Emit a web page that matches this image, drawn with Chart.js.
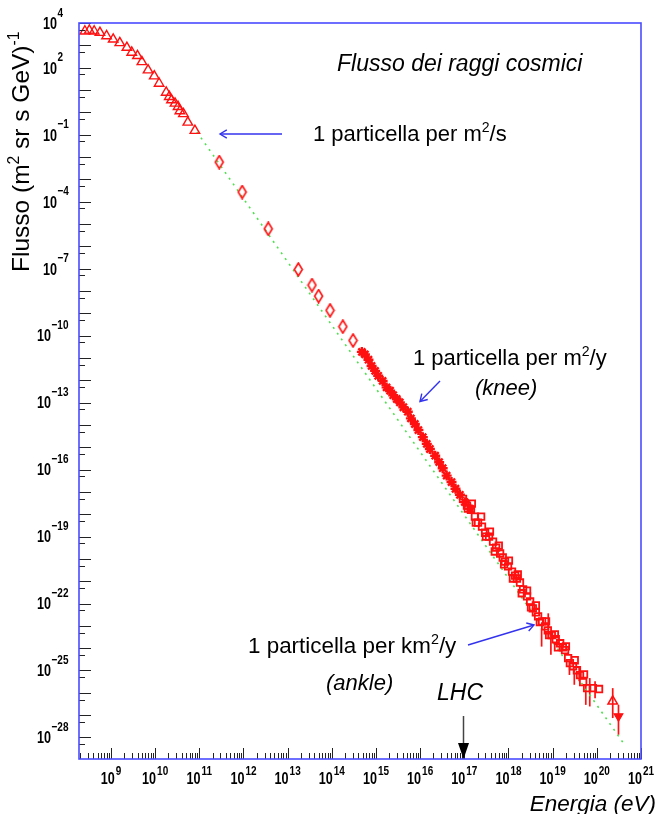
<!DOCTYPE html>
<html><head><meta charset="utf-8">
<script src="https://cdn.jsdelivr.net/npm/chart.js@4.4.1/dist/chart.umd.min.js"></script>
<style>html,body{margin:0;padding:0;background:#fff;}#wrap{width:659px;height:814px;}</style>
</head><body><div id="wrap"><canvas id="c" width="659" height="814"></canvas></div>
<script>
// ---- data (log10 of energy in eV, log10 of flux) ----
const triLogE = [8.41,8.51,8.62,8.75,8.90,9.05,9.20,9.36,9.47,9.60,9.70,9.84,9.98,10.09,10.25,10.32,10.37,10.45,10.52,10.56,10.64,10.74,10.90];
const triLogF = [3.63,3.67,3.63,3.57,3.42,3.27,3.11,2.90,2.68,2.53,2.26,1.89,1.62,1.29,0.89,0.70,0.55,0.40,0.25,0.06,-0.07,-0.45,-0.82];
const diaLogE = [11.45,11.97,12.56,13.24,13.55,13.70,13.96,14.25,14.48];
const diaLogF = [-2.23,-3.57,-5.22,-7.04,-7.74,-8.23,-8.87,-9.60,-10.22];
const starLogE = [14.68,14.75,14.83,14.90,14.98,15.05,15.15,15.24,15.32,15.39,15.47,15.54,15.62,15.72,15.79,15.88,15.96,16.06,16.15,16.22,16.34,16.43,16.51,16.60,16.71,16.80,16.90,17.01,17.13];
const starLogF = [-10.73,-10.84,-11.08,-11.36,-11.58,-11.80,-12.03,-12.32,-12.47,-12.67,-12.84,-12.99,-13.21,-13.41,-13.71,-13.96,-14.23,-14.55,-14.85,-15.08,-15.38,-15.67,-15.94,-16.27,-16.56,-16.86,-17.13,-17.46,-17.75];
const bandLogE = [16.97,17.06,17.15,17.24,17.31,17.40,17.47,17.56,17.65,17.72,17.81,17.87,17.92,17.99,18.08,18.15,18.19,18.26,18.33,18.42,18.49,18.55,18.62,18.67,18.76,18.83,18.89,18.98,19.07,19.17,19.23,19.28,19.35,19.39,19.46,19.55,19.62,19.69,19.78,19.91,20.05];
const bandLogF = [-17.31,-17.62,-17.80,-18.11,-18.38,-18.56,-18.83,-19.00,-19.23,-19.50,-19.76,-19.94,-20.12,-20.34,-20.57,-20.75,-20.88,-21.06,-21.37,-21.68,-21.91,-22.22,-22.40,-22.58,-22.80,-23.02,-23.20,-23.42,-23.60,-23.78,-23.96,-24.09,-24.45,-24.67,-24.81,-24.99,-25.21,-25.52,-25.79,-25.79,-25.83];
const band2LogE = [17.17,17.38,17.58,17.78,18.01,18.21,18.42,18.62,18.85,19.05,19.30,19.50,19.71];
const band2LogF = [-17.53,-18.11,-18.78,-19.41,-20.08,-20.70,-21.42,-22.08,-22.80,-23.38,-23.92,-24.54,-25.17];
const band3LogE = [17.08,17.26,17.49,17.69,17.90,18.10,18.30,18.51,18.71,18.92,19.12];
const band3LogF = [-17.75,-18.38,-19.00,-19.67,-20.25,-20.88,-21.54,-22.17,-22.83,-23.42,-23.96];
const errLogE   = [18.75,18.90,18.96,19.38,19.49,19.60,19.75,19.84,19.96,20.36,20.49];
const errLogTop = [-23.11,-22.44,-23.25,-24.58,-24.97,-24.81,-25.64,-25.34,-25.48,-25.79,-26.54];
const errLogBot = [-23.93,-23.56,-24.30,-25.20,-25.64,-25.48,-26.54,-26.61,-26.24,-27.13,-27.88];
const upTriLogE = [20.36], upTriLogF = [-26.38];
const dnTriLogE = [20.49], dnTriLogF = [-27.05];
const fitLogE = [10.947, 20.60];
const fitLogF = [-0.88, -28.25];
const xLabelExps = [9,10,11,12,13,14,15,16,17,18,19,20,21];
const yLabelExps = [4,2,-1,-4,-7,-10,-13,-16,-19,-22,-25,-28];
const xRangeLog = [8.276, 21];
const yRangeLog = [-28.964, 4];

const pts = (le, lf) => le.map((e, i) => ({x: Math.pow(10, e), y: Math.pow(10, lf[i])}));

const RED = '#ff1010';
// tall open diamond marker
const dia = document.createElement('canvas');
dia.width = 11; dia.height = 15;
(function(){ const c = dia.getContext('2d'); c.strokeStyle = RED; c.lineWidth = 1.6;
  c.beginPath(); c.moveTo(5.5,1); c.lineTo(9.5,7.5); c.lineTo(5.5,14); c.lineTo(1.5,7.5); c.closePath(); c.stroke(); })();

const FONT = '"Liberation Sans", Arial, sans-serif';
function rich(ctx, parts, x, y, size, italic, align) {
  const st = italic ? 'italic ' : '';
  let w = 0;
  parts.forEach(p => { ctx.font = st + (p.sup ? size*0.64 : size) + 'px ' + FONT; p.w = ctx.measureText(p.t).width; w += p.w; });
  let cx = align === 'right' ? x - w : x;
  ctx.textAlign = 'left'; ctx.textBaseline = 'alphabetic';
  parts.forEach(p => { ctx.font = st + (p.sup ? size*0.64 : size) + 'px ' + FONT; ctx.fillText(p.t, cx, p.sup ? y - size*0.4 : y); cx += p.w; });
}
const SY = 1.3;
const BASEF = 'bold 12.6px ' + FONT, EXPF = 'bold 10px ' + FONT;
function sText(ctx, t, x, y, font) { ctx.save(); ctx.font = font; ctx.translate(x, y); ctx.scale(1, SY); ctx.textAlign='left'; ctx.textBaseline='alphabetic'; ctx.fillText(t, 0, 0); ctx.restore(); }
function wText(ctx, t, font) { ctx.font = font; return ctx.measureText(t).width; }
function expStr(e) { return e < 0 ? '\u2212' + (-e) : String(e); }
function openArrow(ctx, x1, y1, x2, y2, color) {
  const a = Math.atan2(y2 - y1, x2 - x1), L = 8, W = 0.55;
  ctx.strokeStyle = color; ctx.lineWidth = 1.4;
  ctx.beginPath(); ctx.moveTo(x1, y1); ctx.lineTo(x2, y2); ctx.stroke();
  ctx.beginPath();
  ctx.moveTo(x2 - L*Math.cos(a - W), y2 - L*Math.sin(a - W));
  ctx.lineTo(x2, y2);
  ctx.lineTo(x2 - L*Math.cos(a + W), y2 - L*Math.sin(a + W));
  ctx.stroke();
}

const deco = {
  id: 'deco',
  beforeDatasetsDraw(chart) {
    const {ctx, scales: {x, y}} = chart;
    ctx.save(); ctx.strokeStyle = RED; ctx.lineWidth = 1.7;
    errLogE.forEach((e, i) => {
      const px = x.getPixelForValue(Math.pow(10, e));
      ctx.beginPath();
      ctx.moveTo(px, y.getPixelForValue(Math.pow(10, errLogTop[i])));
      ctx.lineTo(px, y.getPixelForValue(Math.pow(10, errLogBot[i])));
      ctx.stroke();
    });
    ctx.restore();
  },
  afterDraw(chart) {
    const {ctx, chartArea: ca, scales: {x, y}} = chart;
    ctx.save();
    // ticks
    ctx.strokeStyle = '#222'; ctx.lineWidth = 1;
    for (let n = 8; n <= 21; n++) {
      for (let m = 1; m <= 9; m++) {
        const v = m * Math.pow(10, n);
        if (v < Math.pow(10, xRangeLog[0]) || v > 1e21 * 1.0001) continue;
        const px = Math.round(x.getPixelForValue(v)) + 0.5;
        const len = m === 1 ? 11 : 6;
        ctx.beginPath(); ctx.moveTo(px, ca.bottom); ctx.lineTo(px, ca.bottom - len); ctx.stroke();
      }
    }
    for (let n = 4; n >= -29; n--) {
      [1, 0.5].forEach(m => {
        const v = m * Math.pow(10, n);
        if (v > 1e4 * 1.0001 || v < Math.pow(10, yRangeLog[0])) return;
        const py = Math.round(y.getPixelForValue(v)) + 0.5;
        const len = m === 1 ? 12 : 6;
        ctx.beginPath(); ctx.moveTo(ca.left, py); ctx.lineTo(ca.left + len, py); ctx.stroke();
      });
    }
    // frame
    ctx.strokeStyle = '#4a4aff'; ctx.lineWidth = 1.6;
    ctx.strokeRect(ca.left, ca.top, ca.right - ca.left, ca.bottom - ca.top);
    // tick labels
    ctx.fillStyle = '#000';
    xLabelExps.forEach(e => {
      const px = x.getPixelForValue(Math.pow(10, e));
      const es = expStr(e);
      const wb = wText(ctx, '10', BASEF), we = wText(ctx, es, EXPF);
      const left = px - (wb + we + 1) / 2;
      sText(ctx, '10', left, 784, BASEF);
      sText(ctx, es, left + wb + 1, 774.5, EXPF);
    });
    yLabelExps.forEach(e => {
      const py = y.getPixelForValue(Math.pow(10, e));
      const es = expStr(e);
      const wb = wText(ctx, '10', BASEF);
      const left = es.length >= 3 ? 37 : 43;
      sText(ctx, '10', left, py + 5.9, BASEF);
      sText(ctx, es, left + wb + 0.5, py - 6.5, EXPF);
    });
    // texts
    ctx.fillStyle = '#000';
    rich(ctx, [{t: 'Flusso dei raggi cosmici'}], 337, 71, 23, true);
    rich(ctx, [{t: '1 particella per m'}, {t: '2', sup: true}, {t: '/s'}], 313, 141, 22, false);
    rich(ctx, [{t: '1 particella per m'}, {t: '2', sup: true}, {t: '/y'}], 413, 365, 22, false);
    rich(ctx, [{t: '(knee)'}], 475, 395, 22, true);
    rich(ctx, [{t: '1 particella per km'}, {t: '2', sup: true}, {t: '/y'}], 248, 653, 22.4, false);
    rich(ctx, [{t: '(ankle)'}], 326, 690, 22, true);
    rich(ctx, [{t: 'LHC'}], 437, 700, 23, true);
    rich(ctx, [{t: 'Energia (eV)'}], 656, 811, 22.5, true, 'right');
    ctx.save();
    ctx.translate(29, 272); ctx.rotate(-Math.PI / 2);
    rich(ctx, [{t: 'Flusso (m'}, {t: '2', sup: true}, {t: ' sr s GeV)'}, {t: '-1', sup: true}], 0, 0, 24.5, false);
    ctx.restore();
    // arrows
    openArrow(ctx, 282, 134, 220, 134, '#3333ee');
    openArrow(ctx, 440, 381, 420, 401.5, '#3333ee');
    openArrow(ctx, 468, 645, 534, 625, '#3333ee');
    ctx.strokeStyle = '#444'; ctx.lineWidth = 1.5;
    ctx.beginPath(); ctx.moveTo(463.5, 716); ctx.lineTo(463.5, 745); ctx.stroke();
    ctx.fillStyle = '#000';
    ctx.beginPath(); ctx.moveTo(458, 743); ctx.lineTo(469, 743); ctx.lineTo(463.5, 759); ctx.closePath(); ctx.fill();
    ctx.restore();
  }
};

const openSq = {pointStyle: 'rect', pointRadius: 4.6, borderColor: RED, backgroundColor: 'rgba(0,0,0,0)', borderWidth: 1.8};
new Chart(document.getElementById('c'), {
  type: 'scatter',
  data: {
    datasets: [
      {data: pts(dnTriLogE, dnTriLogF), pointStyle: 'triangle', rotation: 180, pointRadius: 5, borderColor: RED, backgroundColor: RED, borderWidth: 1.2},
      {data: pts(upTriLogE, upTriLogF), pointStyle: 'triangle', pointRadius: 5.5, borderColor: RED, backgroundColor: 'rgba(0,0,0,0)', borderWidth: 1.5},
      Object.assign({data: pts(band3LogE, band3LogF)}, openSq),
      Object.assign({data: pts(band2LogE, band2LogF)}, openSq),
      Object.assign({data: pts(bandLogE, bandLogF)}, openSq),
      {data: pts(starLogE, starLogF), pointStyle: 'star', pointRadius: 5, borderColor: RED, backgroundColor: RED, borderWidth: 2.4},
      {data: pts(diaLogE, diaLogF), pointStyle: dia, pointRadius: 5},
      {data: pts(triLogE, triLogF), pointStyle: 'triangle', pointRadius: 5.5, borderColor: RED, backgroundColor: 'rgba(0,0,0,0)', borderWidth: 1.4},
      {data: pts(fitLogE, fitLogF), showLine: true, pointRadius: 0, borderColor: '#4fe04f', borderWidth: 1.6, borderDash: [2, 5], fill: false}
    ]
  },
  options: {
    responsive: false, animation: false, events: [], devicePixelRatio: 1,
    layout: {padding: {left: 79, right: 18, top: 23, bottom: 55}},
    plugins: {legend: {display: false}, title: {display: false}, tooltip: {enabled: false}},
    scales: {
      x: {type: 'logarithmic', display: false, min: Math.pow(10, xRangeLog[0]), max: Math.pow(10, xRangeLog[1])},
      y: {type: 'logarithmic', display: false, min: Math.pow(10, yRangeLog[0]), max: Math.pow(10, yRangeLog[1])}
    }
  },
  plugins: [deco]
});
</script>
</body></html>
